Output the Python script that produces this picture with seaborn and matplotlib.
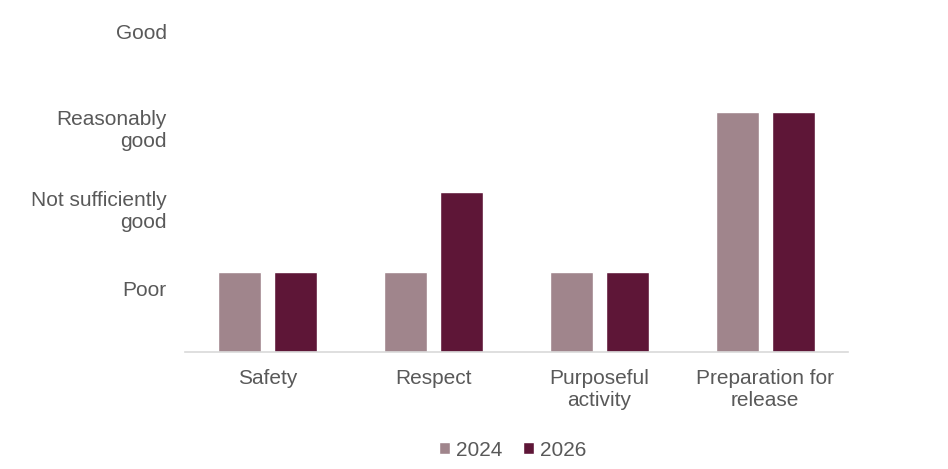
import matplotlib
matplotlib.use("Agg")
import matplotlib.pyplot as plt
import seaborn as sns
import pandas as pd

categories = ["Safety", "Respect", "Purposeful\nactivity", "Preparation for\nrelease"]
years = ["2024", "2026"]
values_2024 = [1, 1, 1, 3]
values_2026 = [1, 2, 1, 3]
level_labels = ["Poor", "Not sufficiently\ngood", "Reasonably\ngood", "Good"]

df = pd.DataFrame({
    "category": categories * 2,
    "year": [years[0]] * len(categories) + [years[1]] * len(categories),
    "value": values_2024 + values_2026,
})

sns.set_style("white")
plt.rcParams['font.family'] = ['Liberation Sans', 'DejaVu Sans']

FS = 15
fig = plt.figure(figsize=(9.48, 4.69), dpi=100)
ax = fig.add_axes([0.195, 0.2495, 0.6995, 0.6825])

palette = {"2024": "#A0858C", "2026": "#5E1637"}
sns.barplot(data=df, x="category", y="value", hue="year", palette=palette,
            width=0.676, gap=0.23, ax=ax, saturation=1, legend=True)

ax.set_ylim(0, 4)
ax.set_xlim(-0.5, 3.5)
ax.set_yticks([0.79, 1.8, 2.81, 4.0])
ax.set_yticklabels(level_labels, fontsize=FS, color="#595959")
ax.tick_params(axis="y", length=0, pad=13)
ax.tick_params(axis="x", length=0, pad=12, labelsize=FS, labelcolor="#595959")
ax.set_xlabel("")
ax.set_ylabel("")
for s in ["left", "right", "top"]:
    ax.spines[s].set_visible(False)
ax.spines["bottom"].set_color("#D9D9D9")
ax.spines["bottom"].set_linewidth(1.2)

handles, labels = ax.get_legend_handles_labels()
ax.legend_.remove()
fig.legend(handles, labels, loc="center", bbox_to_anchor=(0.541, 0.04), ncol=2,
           frameon=False, handlelength=0.5, handleheight=0.5, handletextpad=0.3,
           columnspacing=1.0, prop={"size": FS}, labelcolor="#595959")

fig.savefig("out.png", dpi=100)
